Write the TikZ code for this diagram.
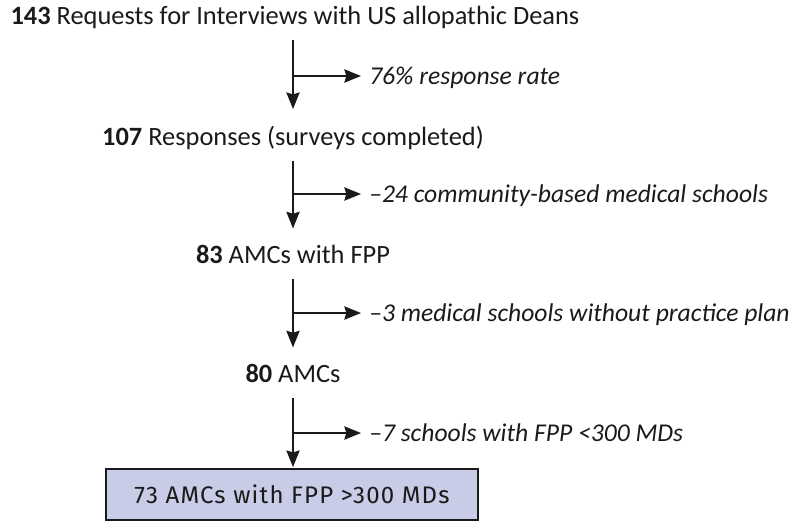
\documentclass[tikz,border=0pt]{standalone}
\usepackage{fontspec}
\setmainfont{Carlito}
\newfontfamily\boxfont[LetterSpace=5]{Fira Sans}
\usetikzlibrary{arrows.meta}
\definecolor{ink}{HTML}{1A1A1A}
\definecolor{boxbg}{HTML}{C8CCE6}
\tikzset{
  stage/.style={anchor=base, inner sep=0pt, text=ink, text height=12.75pt, text depth=0pt, font=\fontsize{19.8}{24}\selectfont},
  note/.style={anchor=west, inner sep=0pt, text=ink, text height=12pt, text depth=0pt, font=\fontsize{19.2}{23}\selectfont\itshape},
  flow/.style={draw=ink, line width=1.1pt, -{Stealth[length=12.5pt,width=10pt,inset=1.5pt]}},
  final/.style={draw=ink, line width=0.9pt, fill=boxbg, minimum width=279pt, minimum height=38.25pt, inner sep=0pt, text=ink, font=\boxfont\fontsize{18}{21}\selectfont},
}

\begin{document}
\begin{tikzpicture}[x=0.75pt,y=-0.75pt]
  \useasboundingbox (0,0) rectangle (790,522);

  \node[stage] (req)  at (295,24)  {\textbf{143} Requests for Interviews with US allopathic Deans};
  \node[stage] (resp) at (293,145) {\textbf{107} Responses (surveys completed)};
  \node[stage] (fpp)  at (293,263) {\textbf{83} AMCs with FPP};
  \node[stage] (amc)  at (293,382) {\textbf{80} AMCs};
  \node[final] (big)  at (292,494.5) {73 AMCs with FPP >300 MDs};

  \coordinate (b1) at (293,76);
  \coordinate (b2) at (293,194);
  \coordinate (b3) at (293,313);
  \coordinate (b4) at (293,433);

  \node[note] (r1) at (369,76)  {76\% response rate};
  \node[note] (r2) at (369,194) {--24 community-based medical schools};
  \node[note] (r3) at (369,313) {--3 medical schools without practice plan};
  \node[note] (r4) at (369,433) {--7 schools with FPP <300 MDs};

  \draw[flow, shorten <=12pt, shorten >=14pt] (req.south -| resp) -- (resp);
  \draw[flow, shorten <=12pt, shorten >=13pt] (resp) -- (fpp);
  \draw[flow, shorten <=12pt, shorten >=13pt] (fpp) -- (amc);
  \draw[flow, shorten <=12pt, shorten >=1pt] (amc) -- (big.north -| amc);

  \draw[flow, shorten >=6pt] (b1) -- (r1);
  \draw[flow, shorten >=6pt] (b2) -- (r2);
  \draw[flow, shorten >=6pt] (b3) -- (r3);
  \draw[flow, shorten >=6pt] (b4) -- (r4);
\end{tikzpicture}
\end{document}
